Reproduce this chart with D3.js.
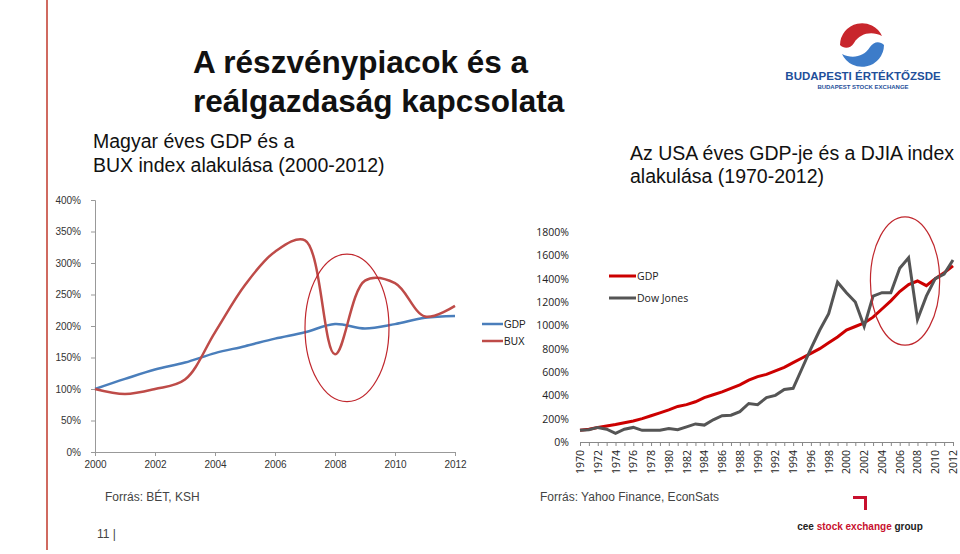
<!DOCTYPE html>
<html><head><meta charset="utf-8">
<script src="https://cdn.jsdelivr.net/npm/d3@7"></script>
<style>body{margin:0;background:#fff}svg{display:block}</style>
</head><body><svg id="c" width="960" height="554"></svg>
<script>
const huYears=[2000,2001,2002,2003,2004,2005,2006,2007,2008,2009,2010,2011,2012];
const huGDP=[100,116,131,142,157,168,180,190,203,196,203,213,216];
const huBUX=[100,92,100,115,190,265,318,336,155,272,268,215,232];
const huTicks=[0,50,100,150,200,250,300,350,400];
const usYears=d3.range(1970,2013);
const usGDP=[100,110,125,138,150,165,180,200,225,250,275,305,320,345,380,405,430,460,490,530,560,580,610,640,680,720,760,800,850,900,960,990,1020,1070,1140,1210,1290,1350,1380,1340,1400,1450,1510];
const usDow=[100,105,125,110,75,110,125,100,100,100,115,105,130,155,145,190,225,230,260,330,320,380,400,450,460,630,800,960,1100,1370,1280,1200,990,1250,1280,1280,1490,1580,1050,1250,1400,1440,1560];
const usTicks=[0,200,400,600,800,1000,1200,1400,1600,1800];

const svg=d3.select("#c");
const AR="Liberation Sans, Arial, sans-serif";
svg.append("line").attr("x1",47).attr("x2",47).attr("y1",0).attr("y2",550).attr("stroke","#c0392b").attr("stroke-width",1.5);
const T=(x,y,s,t,w)=>svg.append("text").attr("x",x).attr("y",y).attr("font-family",AR).attr("font-weight",w||"normal").attr("font-size",s).attr("fill","#111").text(t);
T(193,73,31.5,"A részvénypiacok és a","bold");
T(193,112,31.5,"reálgazdaság kapcsolata","bold");
T(93,148,19.5,"Magyar éves GDP és a");
T(93,172,19.5,"BUX index alakulása (2000-2012)");
T(630,160,19.5,"Az USA éves GDP-je és a DJIA index");
T(630,183,19.5,"alakulása (1970-2012)");

// left chart
const xL=d3.scaleLinear().domain([2000,2012]).range([95,455]);
const yL=d3.scaleLinear().domain([0,400]).range([452,200]);
const gL=svg.append("g").attr("font-family",AR);
gL.append("g").attr("transform","translate(95,0)").call(d3.axisLeft(yL).tickValues(huTicks).tickFormat(d=>d+"%").tickSize(4).tickPadding(10))
  .call(g=>{g.selectAll("text").attr("font-size",10).attr("fill","#333").attr("font-family",AR);g.selectAll("path,line").attr("stroke","#999");});
gL.append("g").attr("transform","translate(0,452)").call(d3.axisBottom(xL).tickValues(d3.range(2000,2013,2)).tickFormat(d3.format("d")).tickSize(4).tickPadding(5))
  .call(g=>{g.selectAll("text").attr("font-size",10).attr("fill","#333").attr("font-family",AR);g.selectAll("path,line").attr("stroke","#999");});
const lineL=s=>d3.line().x((d,i)=>xL(huYears[i])).y(d=>yL(d)).curve(d3.curveCatmullRom)(s);
gL.append("path").attr("d",lineL(huGDP)).attr("fill","none").attr("stroke","#4a7ebb").attr("stroke-width",2.5);
gL.append("path").attr("d",lineL(huBUX)).attr("fill","none").attr("stroke","#be4b48").attr("stroke-width",2.5);
gL.append("ellipse").attr("cx",xL(2008.4)).attr("cy",yL(197)).attr("rx",xL(2009.4)-xL(2008)).attr("ry",yL(80)-yL(197)).attr("fill","none").attr("stroke","#c0272d").attr("stroke-width",1.2);
[["GDP","#4a7ebb",324],["BUX","#be4b48",341]].forEach(([t,c,y])=>{
  gL.append("line").attr("x1",482).attr("x2",503).attr("y1",y).attr("y2",y).attr("stroke",c).attr("stroke-width",2.5);
  gL.append("text").attr("x",504).attr("y",y+4).attr("font-size",10).attr("fill","#222").text(t);
});

// right chart
const OS="Open Sans, sans-serif";
const xR=d3.scaleLinear().domain([1970,2012]).range([580,953]);
const yR=d3.scaleLinear().domain([0,1800]).range([442,232]);
const gR=svg.append("g").attr("font-family",OS);
gR.append("g").attr("transform","translate(577,0)").call(d3.axisLeft(yR).tickValues(usTicks).tickFormat(d=>d+"%").tickSize(0).tickPadding(8))
  .call(g=>{g.select(".domain").remove();g.selectAll("text").attr("font-size",10.5).attr("fill","#222").attr("font-family",OS);});
const xAx=gR.append("g").attr("transform","translate(0,442)").call(d3.axisBottom(xR).tickValues(usYears).tickFormat("").tickSize(4).tickSizeOuter(0));
xAx.selectAll("path,line").attr("stroke","#888");
gR.append("g").selectAll("text").data(usYears.filter(d=>d%2===0)).join("text")
  .attr("transform",d=>`translate(${xR(d)+4},${450}) rotate(-90)`)
  .attr("text-anchor","end").attr("font-size",10.5).attr("fill","#222").text(d=>d);
const lineR=s=>d3.line().x((d,i)=>xR(usYears[i])).y(d=>yR(d))(s);
gR.append("path").attr("d",lineR(usGDP)).attr("fill","none").attr("stroke","#cc0000").attr("stroke-width",3);
gR.append("path").attr("d",lineR(usDow)).attr("fill","none").attr("stroke","#555").attr("stroke-width",3);
gR.append("ellipse").attr("cx",xR(2006.6)).attr("cy",yR(1380)).attr("rx",xR(2010.5)-xR(2006.6)).attr("ry",yR(830)-yR(1380)).attr("fill","none").attr("stroke","#c0272d").attr("stroke-width",1.2);
[["GDP","#cc0000",276],["Dow Jones","#555",298]].forEach(([t,c,y])=>{
  gR.append("line").attr("x1",609).attr("x2",636).attr("y1",y).attr("y2",y).attr("stroke",c).attr("stroke-width",3);
  gR.append("text").attr("x",637).attr("y",y+4).attr("font-size",10.5).attr("fill","#222").text(t);
});

// sources
svg.append("text").attr("x",105).attr("y",501).attr("font-family",AR).attr("font-size",12).attr("fill","#444").text("Forrás: BÉT, KSH");
svg.append("text").attr("x",540).attr("y",501).attr("font-family",AR).attr("font-size",12).attr("fill","#444").text("Forrás: Yahoo Finance, EconSats");
svg.append("text").attr("x",97).attr("y",538).attr("font-family",AR).attr("font-size",12).attr("fill","#444").text("11 |");

// logos
const lg=svg.append("g").attr("transform","translate(862,45)");
lg.append("path").attr("d","M-22,0 A22,22 0 0 1 20,-9 C10,-14 -2,-12 -8,-2 C-12,4 -18,4 -22,0 Z").attr("fill","#c8262c");
lg.append("path").attr("d","M22,0 A22,22 0 0 1 -20,9 C-10,14 2,12 8,2 C12,-4 18,-4 22,0 Z").attr("fill","#3d7cc9");
svg.append("text").attr("x",863).attr("y",80).attr("text-anchor","middle").attr("font-family",AR).attr("font-weight","bold").attr("font-size",11.5).attr("fill","#1f4f9a").text("BUDAPESTI ÉRTÉKTŐZSDE");
svg.append("text").attr("x",863).attr("y",89).attr("text-anchor","middle").attr("font-family",AR).attr("font-weight","bold").attr("font-size",6).attr("fill","#1f4f9a").text("BUDAPEST STOCK EXCHANGE");
svg.append("path").attr("d","M853,496 h14 v14 h-3 v-11 h-11 z").attr("fill","#c8102e");
svg.append("text").attr("x",860).attr("y",530).attr("text-anchor","middle").attr("font-family",AR).attr("font-weight","bold").attr("font-size",10).attr("fill","#222")
  .call(t=>{t.append("tspan").text("cee ");t.append("tspan").attr("fill","#c8102e").text("stock exchange");t.append("tspan").text(" group");});
</script></body></html>
